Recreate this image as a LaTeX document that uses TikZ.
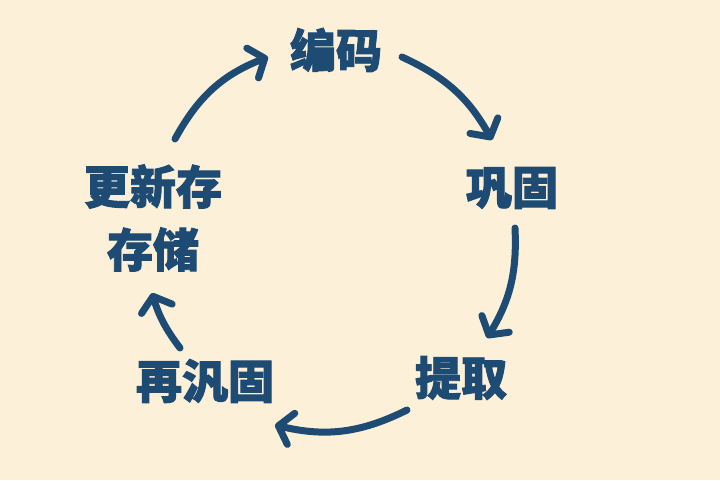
\documentclass[tikz,border=0pt]{standalone}
\usepackage{fontspec}
\usetikzlibrary{arrows.meta}
\newfontfamily\cjk{Noto Sans CJK SC}[BoldFeatures={FakeBold=2}]
\definecolor{bgcream}{HTML}{FCF0D9}
\definecolor{inkblue}{HTML}{1D4B73}
\tikzset{lbl/.style={text=inkblue,font=\cjk\bfseries\fontsize{46}{63}\selectfont,inner sep=0pt,align=center},
  arr/.style={draw=inkblue,line width=7pt,line cap=round,-{Straight Barb[round,length=13pt,width=32pt]}}}
\begin{document}
\begin{tikzpicture}[x=1pt,y=1pt]
        \fill[bgcream](0,0)rectangle(720,480);
        \useasboundingbox(0,0)rectangle(720,480);
        \node[lbl](enc)at(336,430){编码};
        \node[lbl](cons)at(512,292){巩固};
        \node[lbl](retr)at(461,102){提取};
        \node[lbl](recons)at(205,99){再汎固};
        \node[lbl](upd)at(153,262){更新存\\存储};
        \draw[arr]([shift={(22,79)}]upd.center)to[bend left=20]([shift={(-68,-7)}]enc.center);
        \draw[arr]([shift={(66,-7)}]enc.center)to[bend left=18]([shift={(-20,48)}]cons.center);
        \draw[arr]([shift={(3,-40)}]cons.center)to[bend left=17]([shift={(26,40)}]retr.center);
        \draw[arr]([shift={(-54,-32)}]retr.center)to[bend left=20]([shift={(70,-44)}]recons.center);
        \draw[arr]([shift={(-25,33)}]recons.center)to[bend left=10]([shift={(-1,-75)}]upd.center);
    \end{tikzpicture}
\end{document}
